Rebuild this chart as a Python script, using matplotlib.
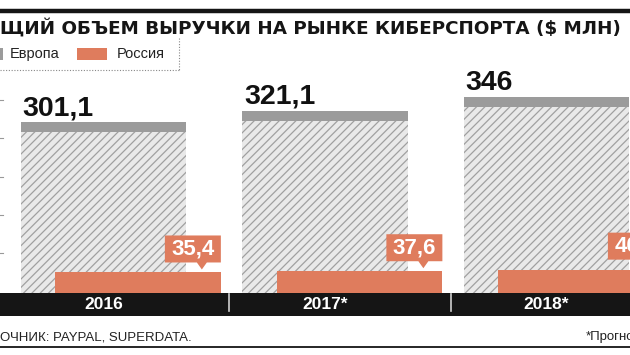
import numpy as np
import matplotlib
matplotlib.use("Agg")
import matplotlib.pyplot as plt
from matplotlib.patches import Rectangle, Polygon
from matplotlib.transforms import ScaledTranslation

# Data
years = ["2016", "2017*", "2018*"]
europe = [301.1, 321.1, 346.0]
russia = [35.4, 37.6, 40.4]
europe_labels = ["301,1", "321,1", "346"]
russia_labels = ["35,4", "37,6", "40,4"]

GREY_FILL = "#e9e9e9"
HATCH = "#a0a0a0"
BAND = "#9b9b9b"
ORANGE = "#df7c5d"

plt.rcParams["font.family"] = ["Liberation Sans", "DejaVu Sans"]
plt.rcParams["hatch.linewidth"] = 0.9

fig = plt.figure(figsize=(6.3, 3.55), dpi=100)
W, H = 630, 355

# main plot area: baseline at y=292.5 px
base_px = 292.5
ax = fig.add_axes([0, (H - base_px) / H, 1, base_px / H])
ymax = 517
ax.set_ylim(0, ymax)
ax.set_xlim(-0.545, 2.299)
ax.axis("off")

x = np.arange(len(years))
w = 0.747
off = 0.0785
px_y = ymax / base_px          # data units per pixel (y)

ax.bar(x - off, europe, width=w, color=GREY_FILL, edgecolor=HATCH,
       hatch="////", linewidth=0, zorder=1)
band_h = 10 * px_y
ax.bar(x - off, [band_h] * 3, bottom=np.array(europe) - band_h, width=w,
       color=BAND, linewidth=0, zorder=2)
ax.bar(x + off, russia, width=w, color=ORANGE, linewidth=0, zorder=3)

for i, v in enumerate(europe):
    ax.annotate(europe_labels[i], (x[i] - off - w / 2, v), xytext=(2, 7),
                textcoords="offset pixels", ha="left", va="baseline",
                fontsize=20.5, fontweight="bold", color="#111111")

# russia callout boxes (sizes in pixels)
for i, v in enumerate(russia):
    xr = x[i] + off + w / 2
    tr = fig.dpi_scale_trans + ScaledTranslation(xr, v, ax.transData)
    pts = np.array([(-56, 10), (-24, 10), (-19, 3), (-14, 10), (0, 10),
                    (0, 37), (-56, 37)]) / 100.0
    ax.add_patch(Polygon(pts, closed=True, transform=tr, color=ORANGE,
                         linewidth=0, zorder=4, clip_on=False))
    ax.text(-28 / 100.0, 23.5 / 100.0, russia_labels[i], transform=tr,
            ha="center", va="center", fontsize=16, fontweight="bold",
            color="white", zorder=5)

# year band
ax_b = fig.add_axes([0, (H - 316) / H, 1, (316 - base_px) / H])
ax_b.set_facecolor("#151515")
ax_b.set_xlim(ax.get_xlim())
ax_b.set_ylim(0, 1)
ax_b.set_xticks([])
ax_b.set_yticks([])
for s in ax_b.spines.values():
    s.set_visible(False)
for i, yr in enumerate(years):
    ax_b.text(x[i] - off, 0.47, yr, ha="center", va="center", color="white",
              fontsize=12.5, fontweight="bold")
for i in range(len(years) - 1):
    ax_b.axvline(i + 0.489, ymin=0.2, ymax=0.95, color="#d0d0d0", lw=1.2)

# overlay for title, legend, footer (pixel coordinates)
ov = fig.add_axes([0, 0, 1, 1], zorder=10)
ov.set_xlim(0, W)
ov.set_ylim(H, 0)
ov.axis("off")
ov.patch.set_alpha(0)

ov.plot([0, W], [11, 11], color="#151515", lw=3.2, solid_capstyle="butt")
ov.text(0, 28.5, "ЩИЙ ОБЪЕМ ВЫРУЧКИ НА РЫНКЕ КИБЕРСПОРТА ($ МЛН)",
        ha="left", va="center", fontsize=13.2, fontweight="bold",
        color="#151515", family="DejaVu Sans")

# legend
ov.add_patch(Rectangle((-27, 48), 30, 12, color=BAND, lw=0))
ov.text(10, 54, "Европа", ha="left", va="center", fontsize=10.5, color="#222222")
ov.add_patch(Rectangle((77, 48), 30, 12, color=ORANGE, lw=0))
ov.text(117, 54, "Россия", ha="left", va="center", fontsize=10.5, color="#222222")
ov.plot([0, 179], [69.5, 69.5], color="#888888", lw=0.8, ls=(0, (1, 1.5)))
ov.plot([179, 179], [38, 69.5], color="#888888", lw=0.8, ls=(0, (1, 1.5)))

# little ticks on the left edge
for ty in [100, 138, 177, 215, 253]:
    ov.plot([0, 3], [ty, ty], color="#999999", lw=0.8)

# footer
ov.text(0, 337, "ОЧНИК: PAYPAL, SUPERDATA.", ha="left", va="center",
        fontsize=9.5, color="#222222")
ov.text(586, 337, "*Прогноз", ha="left", va="center", fontsize=9.5,
        color="#222222")
ov.plot([0, W], [347, 347], color="#151515", lw=1.3)

fig.savefig("out.png", dpi=100)
